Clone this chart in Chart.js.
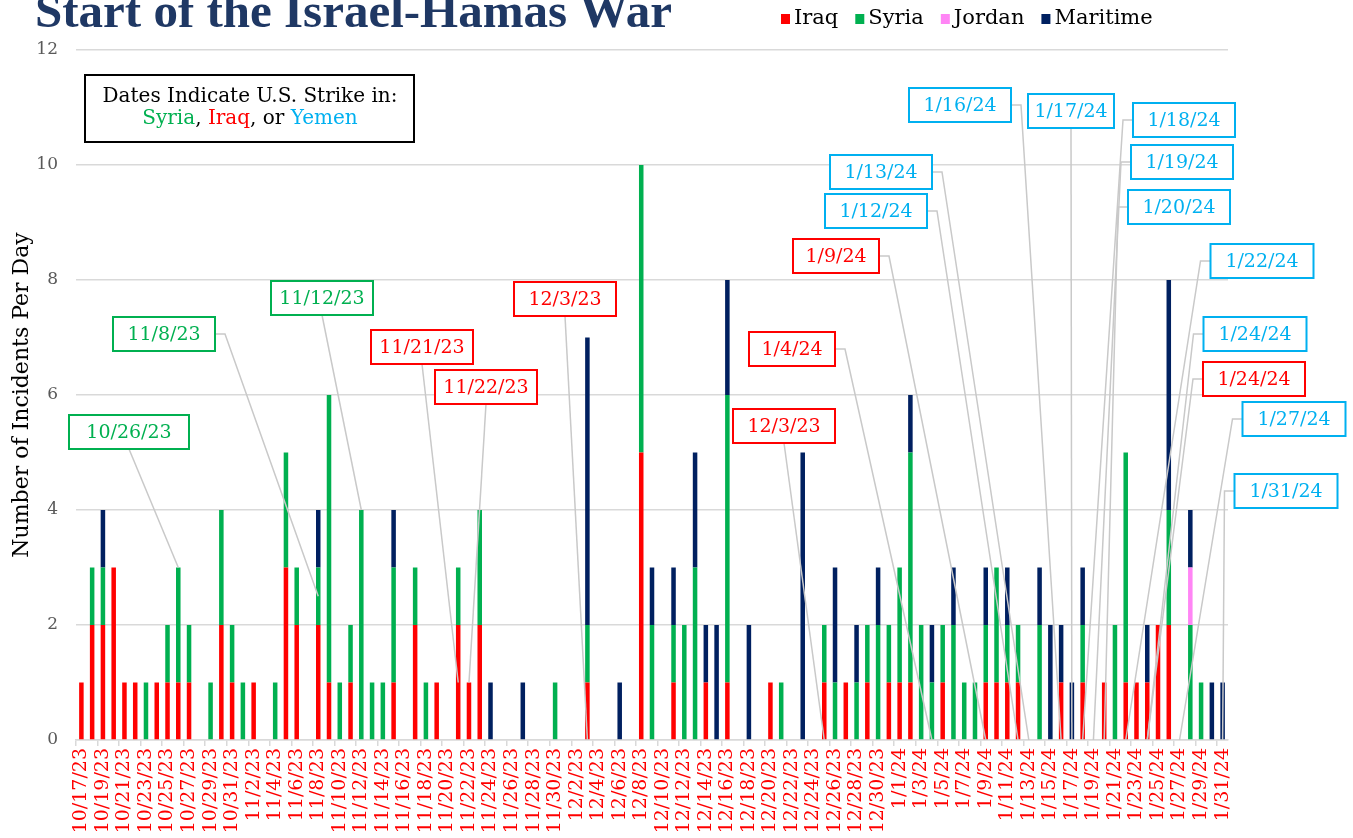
<!DOCTYPE html>
<html>
<head>
<meta charset="utf-8">
<script src="https://cdn.jsdelivr.net/npm/chart.js@4.4.1/dist/chart.umd.min.js"></script>
<style>
  body { margin: 0; background: #fff; }
  canvas { display: block; }
</style>
</head>
<body>
<canvas id="chart" width="1353" height="838"></canvas>
<script>
// Incidents per day, 10/17/23 - 1/31/24

const firstDay = Date.UTC(2023, 9, 17);
const dayCount = 107;

const iraq = [
  1, 2, 2, 3, 1, 1, 0, 1, 1, 1,
  1, 0, 0, 2, 1, 0, 1, 0, 0, 3,
  2, 0, 2, 1, 0, 1, 0, 0, 0, 1,
  0, 2, 0, 1, 0, 2, 1, 2, 0, 0,
  0, 0, 0, 0, 0, 0, 0, 1, 0, 0,
  0, 0, 5, 0, 0, 1, 0, 0, 1, 0,
  1, 0, 0, 0, 1, 0, 0, 0, 0, 1,
  0, 1, 0, 1, 0, 1, 1, 1, 0, 0,
  1, 0, 0, 0, 1, 1, 1, 1, 0, 0,
  0, 1, 0, 1, 0, 1, 0, 1, 1, 1,
  2, 2, 0, 0, 0, 0, 0
];
const syria = [
  0, 1, 1, 0, 0, 0, 1, 0, 1, 2,
  1, 0, 1, 2, 1, 1, 0, 0, 1, 2,
  1, 0, 1, 5, 1, 1, 4, 1, 1, 2,
  0, 1, 1, 0, 0, 1, 0, 2, 0, 0,
  0, 0, 0, 0, 1, 0, 0, 1, 0, 0,
  0, 0, 5, 2, 0, 1, 2, 3, 0, 0,
  5, 0, 0, 0, 0, 1, 0, 0, 0, 1,
  1, 0, 1, 1, 2, 1, 2, 4, 2, 1,
  1, 2, 1, 1, 1, 2, 1, 1, 0, 2,
  0, 0, 0, 1, 0, 0, 2, 4, 0, 0,
  0, 2, 0, 2, 1, 0, 0
];
const jordan = [
  0, 0, 0, 0, 0, 0, 0, 0, 0, 0,
  0, 0, 0, 0, 0, 0, 0, 0, 0, 0,
  0, 0, 0, 0, 0, 0, 0, 0, 0, 0,
  0, 0, 0, 0, 0, 0, 0, 0, 0, 0,
  0, 0, 0, 0, 0, 0, 0, 0, 0, 0,
  0, 0, 0, 0, 0, 0, 0, 0, 0, 0,
  0, 0, 0, 0, 0, 0, 0, 0, 0, 0,
  0, 0, 0, 0, 0, 0, 0, 0, 0, 0,
  0, 0, 0, 0, 0, 0, 0, 0, 0, 0,
  0, 0, 0, 0, 0, 0, 0, 0, 0, 0,
  0, 0, 0, 1, 0, 0, 0
];
const maritime = [
  0, 0, 1, 0, 0, 0, 0, 0, 0, 0,
  0, 0, 0, 0, 0, 0, 0, 0, 0, 0,
  0, 0, 1, 0, 0, 0, 0, 0, 0, 1,
  0, 0, 0, 0, 0, 0, 0, 0, 1, 0,
  0, 1, 0, 0, 0, 0, 0, 5, 0, 0,
  1, 0, 0, 1, 0, 1, 0, 2, 1, 2,
  2, 0, 2, 0, 0, 0, 0, 5, 0, 0,
  2, 0, 1, 0, 1, 0, 0, 1, 0, 1,
  0, 1, 0, 0, 1, 0, 1, 0, 0, 1,
  2, 1, 1, 1, 0, 0, 0, 0, 0, 1,
  0, 4, 0, 1, 0, 1, 1
];

const seriesNames = ['Iraq', 'Syria', 'Jordan', 'Maritime'];
const seriesColors = ['#ff0000', '#00b050', '#ff85f5', '#002060'];
const yTicks = [0, 2, 4, 6, 8, 10, 12];

// strike callouts: label, country of the strike, day it points at, value it points at
const calloutText = ['10/26/23', '11/8/23', '11/12/23', '11/21/23', '11/22/23', '12/3/23', '12/3/23',
  '1/4/24', '1/9/24', '1/12/24', '1/13/24', '1/16/24', '1/17/24', '1/18/24', '1/19/24', '1/20/24',
  '1/22/24', '1/24/24', '1/24/24', '1/27/24', '1/31/24'];
const calloutCountry = ['Syria', 'Syria', 'Syria', 'Iraq', 'Iraq', 'Iraq', 'Iraq',
  'Iraq', 'Iraq', 'Yemen', 'Yemen', 'Yemen', 'Yemen', 'Yemen', 'Yemen', 'Yemen',
  'Yemen', 'Yemen', 'Iraq', 'Yemen', 'Yemen'];
const calloutDay = ['10/26/23', '11/8/23', '11/12/23', '11/21/23', '11/22/23', '12/3/23', '12/25/23',
  '1/4/24', '1/9/24', '1/12/24', '1/13/24', '1/16/24', '1/17/24', '1/18/24', '1/19/24', '1/20/24',
  '1/22/24', '1/24/24', '1/24/24', '1/27/24', '1/31/24'];
const calloutValue = [3, 2.5, 4, 1, 1, 0, 0,
  0, 0, 0, 0, 0, 0, 0, 0, 0,
  0, 0, 0, 0, 0];

const countryColors = { Syria: '#00b050', Iraq: '#ff0000', Yemen: '#00b0f0' };

// box placement (centre x, centre y, width, side the leader leaves from)
const calloutBoxes = [
  [129, 432, 120, 'bottom'], [164, 334, 102, 'right'], [322, 298, 102, 'bottom'],
  [422, 347, 102, 'bottom'], [486, 387, 102, 'bottom'], [565, 299, 102, 'bottom'],
  [784, 426, 102, 'bottom'], [792, 349, 86, 'right'], [836, 256, 86, 'right'],
  [876, 211, 102, 'right'], [881, 172, 102, 'right'], [960, 105, 102, 'right'],
  [1071, 111, 86, 'bottom'], [1184, 120, 102, 'left'], [1182, 162, 102, 'left'],
  [1179, 207, 102, 'left'], [1262, 261, 103, 'left'], [1255, 334, 103, 'left'],
  [1254, 379, 102, 'left'], [1294, 419, 103, 'left'], [1286, 491, 103, 'left']
];

const dayLabels = [];
for (let i = 0; i < dayCount; i++) {
  const d = new Date(firstDay + i * 86400000);
  dayLabels.push((d.getUTCMonth() + 1) + '/' + d.getUTCDate() + '/' + String(d.getUTCFullYear()).slice(2));
}

const serif = '"DejaVu Serif", "Liberation Serif", serif';

const overlay = {
  id: 'overlay',
  afterDraw(chart) {
    const ctx = chart.ctx;
    const xs = chart.scales.x, ys = chart.scales.y;
    ctx.save();

    // title (runs off the top edge like the original)
    ctx.font = 'bold 49px "Liberation Serif", serif';
    ctx.fillStyle = '#1f3864';
    ctx.textAlign = 'left';
    ctx.textBaseline = 'alphabetic';
    ctx.fillText('Start of the Israel-Hamas War', 35, 27);

    // legend
    ctx.font = '21px ' + serif;
    ctx.textBaseline = 'middle';
    let lx = 781;
    seriesNames.forEach((name, k) => {
      ctx.fillStyle = seriesColors[k];
      ctx.fillRect(lx, 14, 9, 10);
      ctx.fillStyle = '#000';
      ctx.fillText(name, lx + 13, 19);
      lx += 13 + ctx.measureText(name).width + 17;
    });

    // info box
    ctx.fillStyle = '#fff';
    ctx.fillRect(85, 75, 329, 67);
    ctx.strokeStyle = '#000';
    ctx.lineWidth = 2;
    ctx.strokeRect(85, 75, 329, 67);
    ctx.font = '20px ' + serif;
    ctx.textAlign = 'center';
    ctx.fillStyle = '#000';
    ctx.fillText('Dates Indicate U.S. Strike in:', 250, 97);
    const parts = [['Syria', countryColors.Syria], [', ', '#000'], ['Iraq', countryColors.Iraq],
      [', or ', '#000'], ['Yemen', countryColors.Yemen]];
    const total = parts.reduce((s, p) => s + ctx.measureText(p[0]).width, 0);
    let px = 250 - total / 2;
    ctx.textAlign = 'left';
    parts.forEach(p => {
      ctx.fillStyle = p[1];
      ctx.fillText(p[0], px, 119);
      px += ctx.measureText(p[0]).width;
    });

    // leader lines
    const h = 34;
    ctx.strokeStyle = '#c9c9c9';
    ctx.lineWidth = 1.5;
    calloutText.forEach((t, k) => {
      const [cx, cy, w, side] = calloutBoxes[k];
      const tx = xs.getPixelForValue(dayLabels.indexOf(calloutDay[k]));
      const ty = ys.getPixelForValue(calloutValue[k]);
      ctx.beginPath();
      if (side === 'bottom') {
        ctx.moveTo(cx, cy + h / 2);
      } else if (side === 'right') {
        ctx.moveTo(cx + w / 2, cy);
        ctx.lineTo(cx + w / 2 + 10, cy);
      } else {
        ctx.moveTo(cx - w / 2, cy);
        ctx.lineTo(cx - w / 2 - 10, cy);
      }
      ctx.lineTo(tx, ty);
      ctx.stroke();
    });

    // boxes
    ctx.font = '19px ' + serif;
    ctx.textAlign = 'center';
    ctx.lineWidth = 2;
    calloutText.forEach((t, k) => {
      const [cx, cy, w] = calloutBoxes[k];
      const col = countryColors[calloutCountry[k]];
      ctx.fillStyle = '#fff';
      ctx.fillRect(cx - w / 2, cy - h / 2, w, h);
      ctx.strokeStyle = col;
      ctx.strokeRect(cx - w / 2, cy - h / 2, w, h);
      ctx.fillStyle = col;
      ctx.fillText(t, cx, cy + 1);
    });

    ctx.restore();
  }
};

new Chart(document.getElementById('chart'), {
  type: 'bar',
  data: {
    labels: dayLabels,
    datasets: [iraq, syria, jordan, maritime].map((vals, k) => ({
      label: seriesNames[k],
      data: vals,
      backgroundColor: seriesColors[k],
      borderWidth: 0,
      categoryPercentage: 1,
      barPercentage: 0.42
    }))
  },
  options: {
    responsive: false,
    animation: false,
    devicePixelRatio: 1,
    layout: { padding: { top: 50, right: 125, left: 0, bottom: 0 } },
    plugins: {
      legend: { display: false },
      tooltip: { enabled: false }
    },
    scales: {
      x: {
        stacked: true,
        offset: true,
        afterFit(scale) { scale.height = 98; },
        grid: {
          drawOnChartArea: false,
          drawTicks: true,
          tickLength: 6,
          offset: true,
          lineWidth: 1.5,
          color: c => (c.index % 2 === 0 ? '#d9d9d9' : 'rgba(0,0,0,0)')
        },
        border: { display: true, color: '#d9d9d9', width: 1.5 },
        ticks: {
          autoSkip: false,
          minRotation: 90,
          maxRotation: 90,
          padding: 2,
          color: '#ff0000',
          font: { family: serif, size: 19 },
          callback: (v, i) => (i % 2 === 0 ? dayLabels[i] : '')
        }
      },
      y: {
        stacked: true,
        min: 0,
        max: 12,
        afterFit(scale) { scale.width = 76; },
        afterBuildTicks(scale) { scale.ticks = yTicks.map(v => ({ value: v })); },
        grid: { color: '#d9d9d9', lineWidth: 1.5, drawTicks: false },
        border: { display: false },
        ticks: {
          padding: 18,
          color: '#595959',
          font: { family: serif, size: 17 }
        },
        title: {
          display: true,
          text: 'Number of Incidents Per Day',
          color: '#000',
          font: { family: serif, size: 22 },
          padding: { top: 9, bottom: 0 }
        }
      }
    }
  },
  plugins: [overlay]
});
</script>
</body>
</html>
